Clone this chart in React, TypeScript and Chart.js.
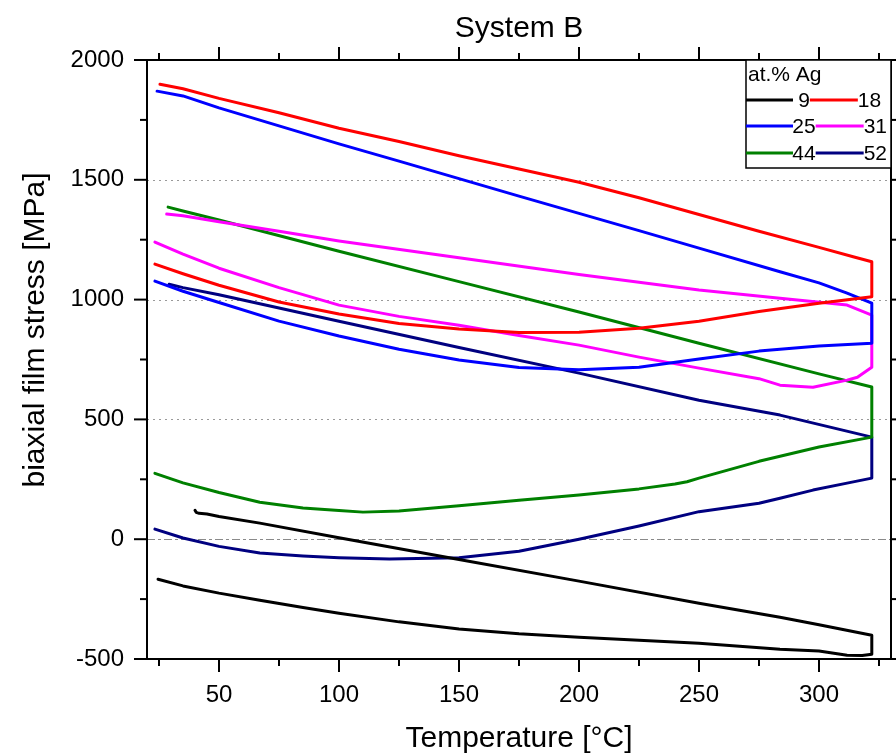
import React, { useEffect, useRef } from 'react';
import { Chart, registerables } from 'chart.js';

Chart.register(...registerables);

const FONT = '"Liberation Sans", Arial, Helvetica, sans-serif';

// ---- Axis ticks ----
const xMajor = [50, 100, 150, 200, 250, 300];
const xMinor = [25, 75, 125, 175, 225, 275, 325];
const yMajor = [-500, 0, 500, 1000, 1500, 2000];
const yMinor = [-250, 250, 750, 1250, 1750];
const gridDotted = [500, 1000, 1500];
const gridZero = [0];

// ---- Series (at.% Ag) ----
const seriesLabels = ['9', '18', '25', '31', '44', '52'];
const seriesColors = ['#000000', '#ff0000', '#0000ff', '#ff00ff', '#008000', '#000080'];

// Each loop: lower branch up to ~322 °C, then back along the upper branch
const ag9Temp = [24.6, 35, 50, 67, 85, 100, 125, 150, 175, 200, 225, 250, 283.75, 300, 311.7, 318, 322,
  322, 300, 283.75, 250, 200, 150, 100, 67, 50, 45, 41.7, 40.5, 40];
const ag9Stress = [-167, -195, -225, -255, -285, -309, -345, -375, -395, -409, -422, -434, -459, -467, -484, -485, -480,
  -401, -357, -326, -267, -175, -85, 6, 67, 95, 105, 108, 112, 121];

const ag18Temp = [23.3, 35, 50, 75, 100, 125, 150, 175, 200, 225, 250, 275, 300, 322,
  322, 315, 300, 275, 250, 225, 200, 175, 150, 125, 100, 75, 50, 35, 25.4];
const ag18Stress = [1148, 1108, 1060, 990, 940, 900, 877, 863, 864, 880, 910, 950, 985, 1012,
  1158, 1177, 1218, 1285, 1355, 1425, 1490, 1545, 1600, 1660, 1715, 1780, 1840, 1880, 1899];

const ag25Temp = [23.3, 35, 50, 75, 100, 125, 150, 175, 200, 225, 250, 275, 300, 322,
  322, 311.7, 300, 283.75, 250, 225, 200, 175, 150, 125, 100, 75, 50, 35, 24.2];
const ag25Stress = [1077, 1035, 988, 910, 848, 793, 748, 717, 707, 718, 752, 785, 806, 818,
  985, 1027, 1070, 1116, 1215, 1288, 1360, 1432, 1505, 1578, 1650, 1725, 1800, 1850, 1870];

const ag31Temp = [23.3, 35, 50, 75, 100, 125, 150, 175, 200, 225, 250, 275, 283.75, 297.5, 311.7, 316, 322,
  322, 311.7, 283.75, 250, 200, 150, 100, 75, 50, 35, 28.2];
const ag31Stress = [1240, 1190, 1131, 1050, 977, 930, 893, 850, 810, 760, 714, 670, 643, 634, 664, 676, 718,
  935, 977, 1006, 1040, 1105, 1175, 1245, 1285, 1325, 1350, 1357];

const ag44Temp = [23.3, 35, 50, 67, 85, 100, 110, 125, 150, 175, 200, 225, 240, 245, 250, 275, 300, 322,
  322, 300, 250, 200, 150, 100, 50, 35, 28.8];
const ag44Stress = [275, 235, 195, 154, 130, 120, 113, 118, 140, 163, 184, 210, 230, 240, 255, 325, 385, 426,
  635, 690, 818, 948, 1075, 1202, 1332, 1370, 1386];

const ag52Temp = [23.3, 35, 50, 67, 85, 100, 121, 150, 175, 200, 225, 250, 275, 283.75, 297.5, 311.7, 322,
  322, 283.75, 250, 200, 150, 100, 50, 35, 29.2];
const ag52Stress = [42, 5, -30, -58, -70, -77, -83, -77, -50, 0, 55, 115, 150, 171, 205, 234, 255,
  426, 518, 580, 693, 800, 910, 1020, 1050, 1064];

const seriesTemps = [ag9Temp, ag18Temp, ag25Temp, ag31Temp, ag44Temp, ag52Temp];
const seriesStress = [ag9Stress, ag18Stress, ag25Stress, ag31Stress, ag44Stress, ag52Stress];

const decorPlugin = {
  id: 'decor',
  beforeDatasetsDraw(chart: any) {
    const { ctx, chartArea: a, scales } = chart;
    const y = scales.y;
    ctx.save();
    ctx.lineWidth = 1;
    ctx.strokeStyle = '#9a9a9a';
    ctx.setLineDash([2, 4]);
    gridDotted.forEach((v) => {
      const py = Math.round(y.getPixelForValue(v)) + 0.5;
      ctx.beginPath();
      ctx.moveTo(a.left, py);
      ctx.lineTo(a.right, py);
      ctx.stroke();
    });
    ctx.strokeStyle = '#8a8a8a';
    ctx.setLineDash([8, 3, 3, 3]);
    gridZero.forEach((v) => {
      const py = Math.round(y.getPixelForValue(v)) + 0.5;
      ctx.beginPath();
      ctx.moveTo(a.left, py);
      ctx.lineTo(a.right, py);
      ctx.stroke();
    });
    ctx.restore();
  },
  afterDatasetsDraw(chart: any) {
    const { ctx, chartArea: a, scales } = chart;
    const x = scales.x;
    const y = scales.y;
    ctx.save();
    ctx.setLineDash([]);
    ctx.strokeStyle = '#000';
    ctx.lineWidth = 2;
    ctx.strokeRect(a.left, a.top, a.right - a.left, a.bottom - a.top);
    const major = 13;
    const minor = 7;
    const tick = (x1: number, y1: number, x2: number, y2: number) => {
      ctx.beginPath();
      ctx.moveTo(x1, y1);
      ctx.lineTo(x2, y2);
      ctx.stroke();
    };
    xMajor.forEach((v) => {
      const px = x.getPixelForValue(v);
      tick(px, a.bottom, px, a.bottom + major);
      tick(px, a.top, px, a.top - major);
    });
    xMinor.forEach((v) => {
      const px = x.getPixelForValue(v);
      tick(px, a.bottom, px, a.bottom + minor);
      tick(px, a.top, px, a.top - minor);
    });
    yMajor.forEach((v) => {
      const py = y.getPixelForValue(v);
      tick(a.left, py, a.left - major, py);
      tick(a.right, py, a.right + major, py);
    });
    yMinor.forEach((v) => {
      const py = y.getPixelForValue(v);
      tick(a.left, py, a.left - minor, py);
      tick(a.right, py, a.right + minor, py);
    });

    // Legend box
    const bx = 746;
    const by = a.top;
    const bw = a.right - bx;
    const bh = 108;
    ctx.fillStyle = '#fff';
    ctx.fillRect(bx, by, bw, bh);
    ctx.lineWidth = 1.5;
    ctx.strokeRect(bx, by, bw, bh);
    ctx.fillStyle = '#000';
    ctx.font = `21px ${FONT}`;
    ctx.textBaseline = 'alphabetic';
    ctx.textAlign = 'left';
    ctx.fillText('at.% Ag', bx + 2, by + 21);
    const rows = [[0, 1], [2, 3], [4, 5]];
    const rowY = [100, 126, 153];
    ctx.textBaseline = 'middle';
    rows.forEach((pair, r) => {
      const ly = rowY[r];
      ctx.lineWidth = 3;
      ctx.strokeStyle = seriesColors[pair[0]];
      tick(bx, ly, bx + 47, ly);
      ctx.textAlign = 'center';
      ctx.fillText(seriesLabels[pair[0]], bx + 58, ly + 1);
      const w = ctx.measureText(seriesLabels[pair[0]]).width;
      const s2 = bx + 58 + w / 2;
      ctx.strokeStyle = seriesColors[pair[1]];
      tick(s2, ly, s2 + 48, ly);
      ctx.textAlign = 'left';
      ctx.fillText(seriesLabels[pair[1]], s2 + 48, ly + 1);
    });

    // Titles
    ctx.fillStyle = '#000';
    ctx.font = `30px ${FONT}`;
    ctx.textAlign = 'center';
    ctx.textBaseline = 'alphabetic';
    ctx.fillText('System B', (a.left + a.right) / 2, 37);
    ctx.fillText('Temperature [°C]', (a.left + a.right) / 2, 747);
    ctx.save();
    ctx.translate(44, 330);
    ctx.rotate(-Math.PI / 2);
    ctx.fillText('biaxial film stress [MPa]', 0, 0);
    ctx.restore();
    ctx.restore();
  },
};

export default function App() {
  const canvasRef = useRef<HTMLCanvasElement | null>(null);

  useEffect(() => {
    if (!canvasRef.current) return;
    const datasets = seriesLabels.map((label, i) => ({
      label,
      data: seriesTemps[i].map((t, j) => ({ x: t, y: seriesStress[i][j] })),
      borderColor: seriesColors[i],
      backgroundColor: seriesColors[i],
      borderWidth: 3,
      pointRadius: 0,
      showLine: true,
      fill: false,
      tension: 0,
      borderJoinStyle: 'round',
      borderCapStyle: 'round',
    }));
    const chart = new Chart(canvasRef.current, {
      type: 'scatter',
      data: { datasets },
      options: {
        animation: false,
        responsive: false,
        devicePixelRatio: 1,
        layout: { padding: { top: 60, right: 5, left: 0, bottom: 0 } },
        plugins: {
          legend: { display: false },
          tooltip: { enabled: false },
          title: { display: false },
        },
        scales: {
          x: {
            type: 'linear',
            position: 'bottom',
            min: 20,
            max: 330,
            afterBuildTicks: (s: any) => {
              s.ticks = xMajor.map((v) => ({ value: v }));
            },
            afterFit: (s: any) => {
              s.height = 94;
            },
            grid: { display: false, drawTicks: false },
            border: { display: false },
            ticks: {
              font: { family: FONT, size: 24 },
              color: '#000',
              padding: 22,
              maxRotation: 0,
              autoSkip: false,
              callback: (v: any) => String(v),
            },
          },
          y: {
            type: 'linear',
            position: 'left',
            min: -500,
            max: 2000,
            afterBuildTicks: (s: any) => {
              s.ticks = yMajor.map((v) => ({ value: v }));
            },
            afterFit: (s: any) => {
              s.width = 147;
            },
            grid: { display: false, drawTicks: false },
            border: { display: false },
            ticks: {
              font: { family: FONT, size: 24 },
              color: '#000',
              padding: 23,
              autoSkip: false,
              callback: (v: any) => String(v),
            },
          },
        },
      } as any,
      plugins: [decorPlugin],
    });
    return () => chart.destroy();
  }, []);

  return (
    <div style={{ position: 'fixed', left: 0, top: 0, width: 896, height: 753, background: '#fff' }}>
      <canvas ref={canvasRef} width={896} height={753} style={{ display: 'block', width: 896, height: 753 }} />
    </div>
  );
}
